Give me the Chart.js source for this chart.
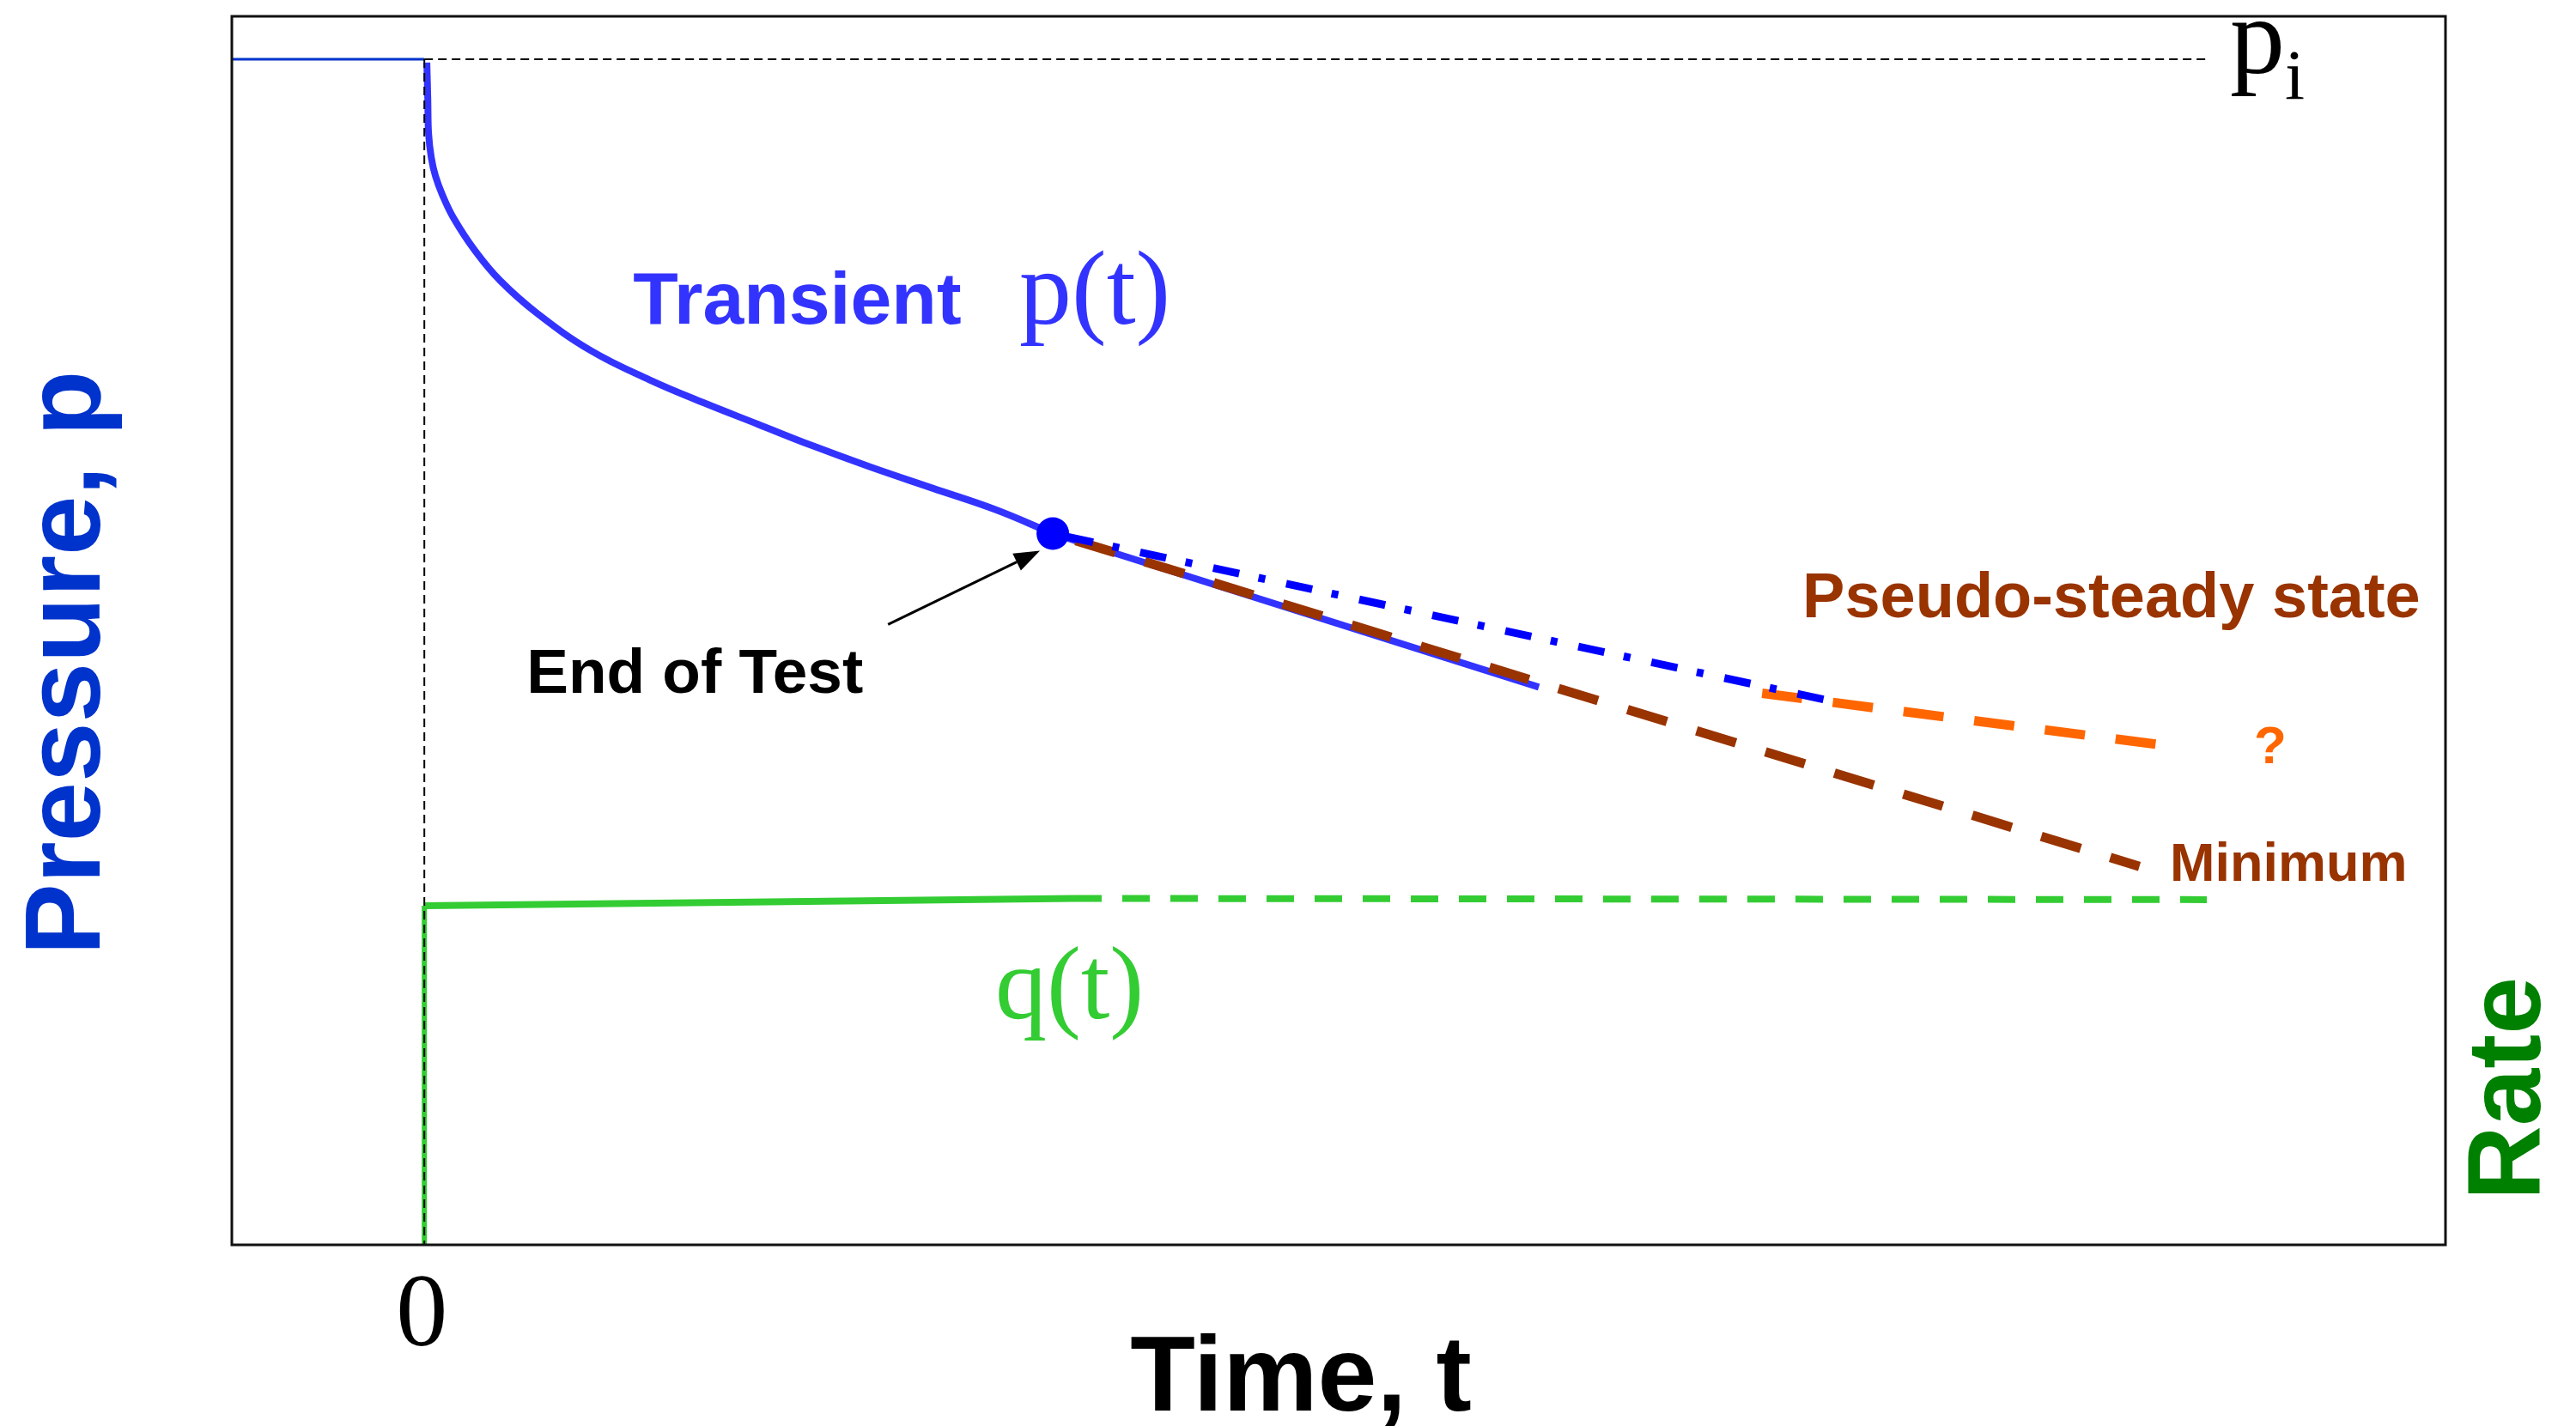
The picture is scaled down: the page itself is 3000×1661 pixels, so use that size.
<!DOCTYPE html>
<html>
<head>
<meta charset="utf-8">
<script src="https://cdn.jsdelivr.net/npm/chart.js@4.4.1/dist/chart.umd.min.js"></script>
<style>
  html, body { margin: 0; padding: 0; background: #fff; }
  #wrap { width: 3000px; height: 1661px; position: relative; }
</style>
</head>
<body>
<div id="wrap"><canvas id="chart"></canvas></div>
<script>
// Time (t) and pressure / rate (p, q) in arbitrary chart units.
const preTestT = [-1, 0];
const preTestP = [96.5, 96.5];

const transientT = [0.013, 0.018, 0.022, 0.036, 0.058, 0.094, 0.152, 0.263, 0.393, 0.584, 0.865, 1.169, 1.450, 1.731, 2.012, 2.315, 2.640, 2.966, 3.265];
const transientP = [96.24, 93.25, 90.47, 88.52, 86.99, 85.46, 83.58, 80.93, 78.50, 75.85, 72.79, 70.42, 68.55, 66.81, 65.07, 63.33, 61.59, 59.85, 57.90];

const endTestT = [3.265];
const endTestP = [57.9];

const lateTransientT = [3.265, 5.79];
const lateTransientP = [57.9, 45.4];

const infiniteT = [3.265, 7.27];
const infiniteP = [57.9, 44.4];

const pssT = [3.265, 8.91];
const pssP = [57.9, 30.8];

const unknownT = [6.95, 9.02];
const unknownP = [44.9, 40.7];

const rateStepT = [0, 0];
const rateStepQ = [0, 27.6];
const rateT = [0, 3.376];
const rateQ = [27.6, 28.2];
const rateForecastT = [3.376, 9.26];
const rateForecastQ = [28.2, 28.1];

const piLineT = [0, 9.26];
const piLineP = [96.5, 96.5];
const zeroLineT = [0, 0];
const zeroLineP = [96.5, 0];

const xTicks = [0];

// arrow from the "End of Test" label towards the dot
const arrowFrom = [2.409, 50.5];
const arrowTo = [3.198, 56.5];

const pts = (xs, ys) => xs.map((x, i) => ({ x, y: ys[i] }));

const SANS = '"Liberation Sans", Arial, sans-serif';
const SERIF = '"Liberation Serif", "Times New Roman", serif';

const labels = [
  { text: 'Transient', t: 1.084, p: 74.95, font: `bold 86px ${SANS}`, color: '#3333ff' },
  { text: 'p(t)', t: 3.091, p: 75.0, font: `122px ${SERIF}`, color: '#3333ff' },
  { text: 'End of Test', t: 0.531, p: 44.95, font: `bold 73px ${SANS}`, color: '#000' },
  { text: 'Pseudo-steady state', t: 7.159, p: 51.08, font: `bold 74px ${SANS}`, color: '#993300' },
  { text: '?', t: 9.505, p: 39.18, font: `bold 62px ${SANS}`, color: '#ff6600' },
  { text: 'Minimum', t: 9.068, p: 29.65, font: `bold 63px ${SANS}`, color: '#993300' },
  { text: 'q(t)', t: 2.966, p: 18.44, font: `120px ${SERIF}`, color: '#33cc33' },
  { text: 'p', t: 9.38, p: 95.41, font: `128px ${SERIF}`, color: '#000', sub: 'i', subFont: `83px ${SERIF}`, subDrop: 30 },
];

const sketchText = {
  id: 'sketchText',
  afterDatasetsDraw(chart) {
    const { ctx, chartArea: a, scales: { x, y } } = chart;
    ctx.save();

    // plot frame
    ctx.strokeStyle = '#111';
    ctx.lineWidth = 3;
    ctx.strokeRect(a.left, a.top, a.right - a.left, a.bottom - a.top);

    // arrow
    const x0 = x.getPixelForValue(arrowFrom[0]), y0 = y.getPixelForValue(arrowFrom[1]);
    const x1 = x.getPixelForValue(arrowTo[0]), y1 = y.getPixelForValue(arrowTo[1]);
    const ang = Math.atan2(y1 - y0, x1 - x0);
    const headLen = 30, headW = 11;
    const bx = x1 - headLen * Math.cos(ang), by = y1 - headLen * Math.sin(ang);
    ctx.strokeStyle = '#000';
    ctx.lineWidth = 3;
    ctx.beginPath();
    ctx.moveTo(x0, y0);
    ctx.lineTo(bx, by);
    ctx.stroke();
    ctx.fillStyle = '#000';
    ctx.beginPath();
    ctx.moveTo(x1, y1);
    ctx.lineTo(bx + headW * Math.sin(ang), by - headW * Math.cos(ang));
    ctx.lineTo(bx - headW * Math.sin(ang), by + headW * Math.cos(ang));
    ctx.closePath();
    ctx.fill();

    // in-plot labels
    ctx.textBaseline = 'alphabetic';
    ctx.textAlign = 'left';
    labels.forEach((l) => {
      const px = x.getPixelForValue(l.t), py = y.getPixelForValue(l.p);
      ctx.font = l.font;
      ctx.fillStyle = l.color;
      ctx.fillText(l.text, px, py);
      if (l.sub) {
        const w = ctx.measureText(l.text).width;
        ctx.font = l.subFont;
        ctx.fillText(l.sub, px + w, py + l.subDrop);
      }
    });

    // tick label under t = 0
    ctx.font = `120px ${SERIF}`;
    ctx.fillStyle = '#000';
    ctx.textAlign = 'center';
    xTicks.forEach((v) => ctx.fillText(String(v), x.getPixelForValue(v) - 3, a.bottom + 117));

    // axis titles
    ctx.font = `bold 124px ${SANS}`;
    ctx.fillText('Time, t', 1515, a.bottom + 193);

    ctx.save();
    ctx.translate(a.left - 154, 772);
    ctx.rotate(-Math.PI / 2);
    ctx.font = `bold 125px ${SANS}`;
    ctx.fillStyle = '#0033cc';
    ctx.fillText('Pressure, p', 0, 0);
    ctx.restore();

    ctx.save();
    ctx.translate(a.right + 110, 1268);
    ctx.rotate(-Math.PI / 2);
    ctx.font = `bold 120px ${SANS}`;
    ctx.fillStyle = '#008000';
    ctx.fillText('Rate', 0, 0);
    ctx.restore();

    ctx.restore();
  },
};

new Chart(document.getElementById('chart'), {
  type: 'line',
  data: {
    datasets: [
      {
        label: 'End of test',
        data: pts(endTestT, endTestP),
        showLine: false,
        pointRadius: 19,
        pointBackgroundColor: '#0000ff',
        pointBorderWidth: 0,
      },
      {
        label: 't = 0',
        data: pts(zeroLineT, zeroLineP),
        borderColor: '#000',
        borderWidth: 2,
        borderDash: [10, 6],
      },
      {
        label: 'pi',
        data: pts(piLineT, piLineP),
        borderColor: '#000',
        borderWidth: 2,
        borderDash: [10, 6],
      },
      {
        label: 'Infinite acting',
        data: pts(infiniteT, infiniteP),
        borderColor: '#0000ff',
        borderWidth: 9,
        borderDash: [31, 23, 8, 25],
        borderDashOffset: 70,
      },
      {
        label: 'Unknown',
        data: pts(unknownT, unknownP),
        borderColor: '#ff6600',
        borderWidth: 11,
        borderDash: [47, 36],
      },
      {
        label: 'Pseudo-steady state',
        data: pts(pssT, pssP),
        borderColor: '#993300',
        borderWidth: 11,
        borderDash: [48, 36],
        borderDashOffset: 56,
      },
      {
        label: 'Late transient',
        data: pts(lateTransientT, lateTransientP),
        borderColor: '#3333ff',
        borderWidth: 8,
      },
      {
        label: 'Transient p(t)',
        data: pts(transientT, transientP),
        borderColor: '#3333ff',
        borderWidth: 8,
        tension: 0.4,
        borderJoinStyle: 'round',
      },
      {
        label: 'Initial pressure',
        data: pts(preTestT, preTestP),
        borderColor: '#0033cc',
        borderWidth: 3,
      },
      {
        label: 'Rate step',
        data: pts(rateStepT, rateStepQ),
        borderColor: '#33cc33',
        borderWidth: 6,
      },
      {
        label: 'q(t)',
        data: pts(rateT, rateQ),
        borderColor: '#33cc33',
        borderWidth: 8,
      },
      {
        label: 'q forecast',
        data: pts(rateForecastT, rateForecastQ),
        borderColor: '#33cc33',
        borderWidth: 8,
        borderDash: [32, 24],
      },
    ],
  },
  options: {
    responsive: true,
    maintainAspectRatio: false,
    animation: false,
    events: [],
    layout: { padding: { left: 270, top: 13, right: 152, bottom: 211 } },
    elements: {
      point: { radius: 0 },
      line: { tension: 0, borderCapStyle: 'butt', fill: false },
    },
    scales: {
      x: { type: 'linear', min: -1, max: 10.5, display: false },
      y: { type: 'linear', min: 0, max: 100, display: false },
    },
    plugins: {
      legend: { display: false },
      tooltip: { enabled: false },
    },
  },
  plugins: [sketchText],
});
</script>
</body>
</html>
